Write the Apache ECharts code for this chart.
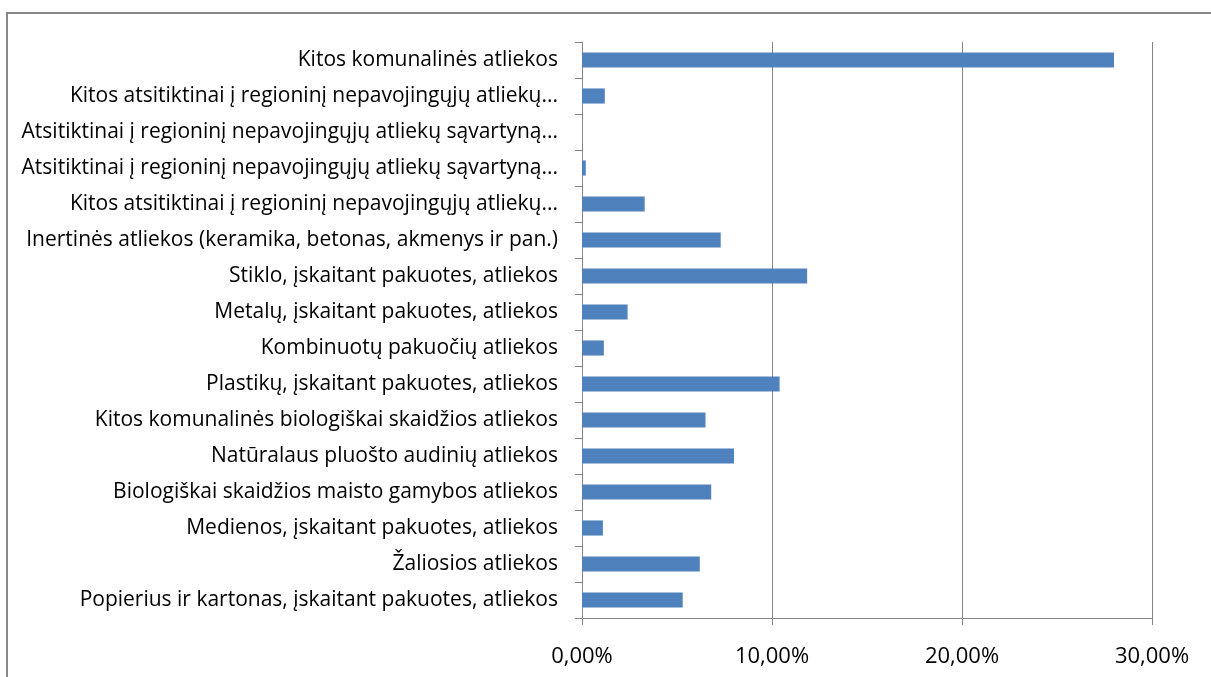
<!DOCTYPE html>
<html>
<head>
<meta charset="utf-8">
<script src="https://cdn.jsdelivr.net/npm/echarts@6/dist/echarts.min.js"></script>
<style>
  html, body { margin: 0; padding: 0; background: #fff; }
  #chart { width: 1211px; height: 677px; }
</style>
</head>
<body>
<div id="chart"></div>
<script>
// kategorijos (iš viršaus į apačią)
const categories = [
  'Kitos komunalinės atliekos',
  'Kitos atsitiktinai į regioninį nepavojingųjų atliekų...',
  'Atsitiktinai į regioninį nepavojingųjų atliekų sąvartyną...',
  'Atsitiktinai į regioninį nepavojingųjų atliekų sąvartyną...',
  'Kitos atsitiktinai į regioninį nepavojingųjų atliekų...',
  'Inertinės atliekos (keramika, betonas, akmenys ir pan.)',
  'Stiklo, įskaitant pakuotes, atliekos',
  'Metalų, įskaitant pakuotes, atliekos',
  'Kombinuotų pakuočių atliekos',
  'Plastikų, įskaitant pakuotes, atliekos',
  'Kitos komunalinės biologiškai skaidžios atliekos',
  'Natūralaus pluošto audinių atliekos',
  'Biologiškai skaidžios maisto gamybos atliekos',
  'Medienos, įskaitant pakuotes, atliekos',
  'Žaliosios atliekos',
  'Popierius ir kartonas, įskaitant pakuotes, atliekos'
];

// dalis, %
const shares = [28.0, 1.2, 0, 0.2, 3.3, 7.3, 11.85, 2.4, 1.15, 10.4, 6.5, 8.0, 6.8, 1.1, 6.2, 5.3];

const xTicks = [0, 10, 20, 30];

const chart = echarts.init(document.getElementById('chart'));

const fmt = v => v.toFixed(2).replace('.', ',') + '%';

const option = {
  animation: false,
  textStyle: { fontFamily: 'Open Sans' },
  graphic: [{
    type: 'rect',
    shape: { x: 7, y: 13, width: 1210, height: 700 },
    style: { fill: 'none', stroke: '#878787', lineWidth: 2 },
    silent: true
  }],
  grid: { left: 582, right: 59, top: 42, bottom: 59, containLabel: false },
  xAxis: {
    type: 'value',
    min: xTicks[0],
    max: xTicks[xTicks.length - 1],
    interval: 10,
    axisLine: { show: true, lineStyle: { color: '#868686', width: 1 } },
    axisTick: { show: true, length: 7, lineStyle: { color: '#868686' } },
    splitLine: { show: true, lineStyle: { color: '#868686', width: 1 } },
    axisLabel: { color: '#000', fontSize: 22, margin: 28, formatter: fmt }
  },
  yAxis: {
    type: 'category',
    inverse: true,
    data: categories,
    axisLine: { show: true, lineStyle: { color: '#868686', width: 1 } },
    axisTick: { show: true, length: 7, alignWithLabel: false, lineStyle: { color: '#868686' } },
    axisLabel: { color: '#000', fontSize: 21, margin: 24 },
    splitLine: { show: false }
  },
  series: [{
    type: 'bar',
    data: shares,
    barCategoryGap: '58%',
    itemStyle: { color: '#4F81BD', borderWidth: 0 }
  }]
};

chart.setOption(option);
</script>
</body>
</html>
